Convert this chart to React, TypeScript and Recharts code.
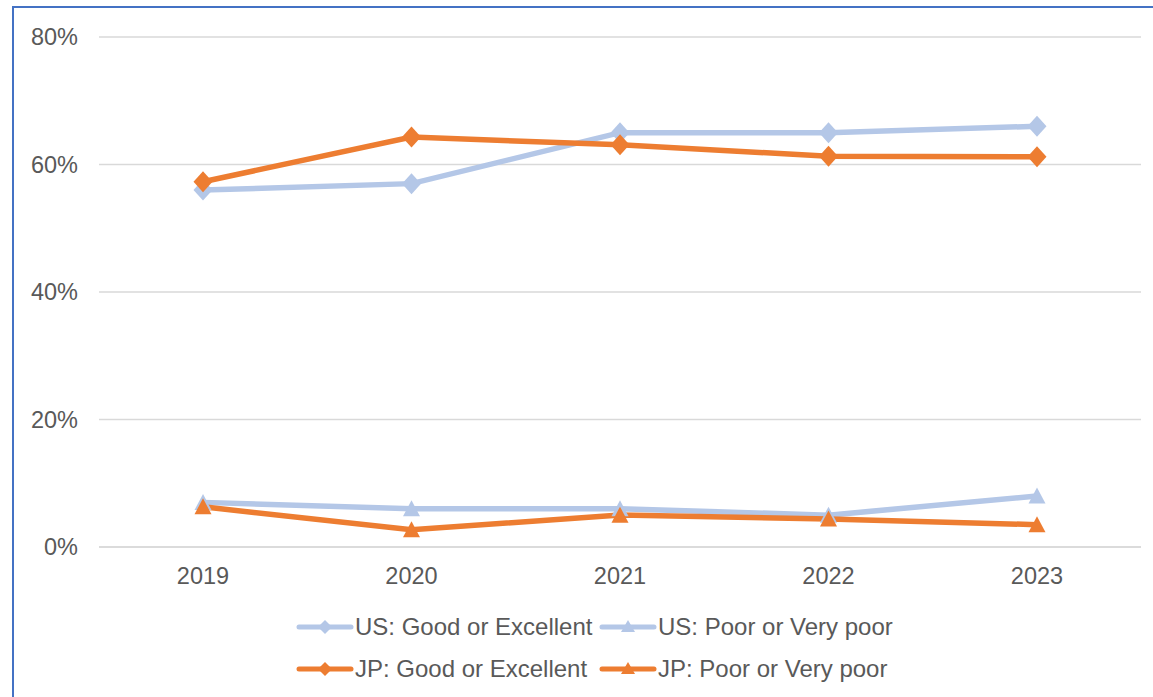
import React from "react";
import { LineChart, Line, XAxis, YAxis, CartesianGrid } from "recharts";

const years = ["2019", "2020", "2021", "2022", "2023"];
const usGood = [56, 57, 65, 65, 66];
const usPoor = [7, 6, 6, 5, 8];
const jpGood = [57.3, 64.3, 63.1, 61.3, 61.2];
const jpPoor = [6.3, 2.7, 5.0, 4.4, 3.5];
const yTicks = [0, 20, 40, 60, 80];

const seriesNames = [
  "US: Good or Excellent",
  "US: Poor or Very poor",
  "JP: Good or Excellent",
  "JP: Poor or Very poor",
];

const US_COLOR = "#B4C7E7";
const JP_COLOR = "#ED7D31";

const data = years.map((y, i) => ({
  year: y,
  usGood: usGood[i],
  usPoor: usPoor[i],
  jpGood: jpGood[i],
  jpPoor: jpPoor[i],
}));

const Diamond = (color: string) => (props: any) => {
  const { cx, cy } = props;
  if (cx == null || cy == null) return null;
  const w = 9.5, h = 10.5;
  return (
    <polygon
      points={`${cx},${cy - h} ${cx + w},${cy} ${cx},${cy + h} ${cx - w},${cy}`}
      fill={color}
    />
  );
};

const Triangle = (color: string) => (props: any) => {
  const { cx, cy } = props;
  if (cx == null || cy == null) return null;
  const w = 8.5, h = 15;
  return (
    <polygon
      points={`${cx},${cy - h / 2 - 1} ${cx + w},${cy + h / 2} ${cx - w},${cy + h / 2}`}
      fill={color}
    />
  );
};

const LegendIcon = ({ color, shape }: { color: string; shape: string }) => (
  <svg width={58} height={16} style={{ display: "block" }}>
    <line x1={3} y1={8} x2={55} y2={8} stroke={color} strokeWidth={5} strokeLinecap="round" />
    {shape === "diamond" ? (
      <polygon points="29,1 36,8 29,15 22,8" fill={color} />
    ) : (
      <polygon points="29,1 36,13 22,13" fill={color} />
    )}
  </svg>
);

const legendItems = [
  { name: seriesNames[0], color: US_COLOR, shape: "diamond" },
  { name: seriesNames[1], color: US_COLOR, shape: "triangle" },
  { name: seriesNames[2], color: JP_COLOR, shape: "diamond" },
  { name: seriesNames[3], color: JP_COLOR, shape: "triangle" },
];

const FONT = "Liberation Sans, Arial, sans-serif";
const textStyle = { fill: "#595959", fontSize: 23.5, fontFamily: FONT };

export default function App() {
  return (
    <div style={{ position: "absolute", left: 0, top: 0, width: 1153, height: 697, overflow: "hidden", background: "#fff" }}>
      <div
        style={{
          position: "absolute",
          left: 12,
          top: 6,
          width: 1180,
          height: 720,
          border: "2px solid #4472C4",
          boxSizing: "border-box",
        }}
      />
      <div style={{ position: "absolute", left: 0, top: 0 }}>
        <LineChart
          width={1153}
          height={697}
          data={data}
          margin={{ top: 37, right: 12, bottom: 120, left: 39 }}
        >
          <CartesianGrid vertical={false} stroke="#D9D9D9" strokeWidth={1.5} />
          <XAxis
            dataKey="year"
            padding={{ left: 104, right: 104 }}
            tickLine={false}
            axisLine={{ stroke: "#D9D9D9", strokeWidth: 1.5 }}
            tick={textStyle}
            tickSize={0}
            tickMargin={20}
            height={30}
          />
          <YAxis
            domain={[0, 80]}
            ticks={yTicks}
            tickFormatter={(v: number) => `${v}%`}
            axisLine={false}
            tickLine={false}
            tickSize={0}
            tickMargin={21}
            tick={textStyle}
            width={60}
          />
          <Line dataKey="usGood" name={seriesNames[0]} stroke={US_COLOR} strokeWidth={5.5} dot={Diamond(US_COLOR)} isAnimationActive={false} />
          <Line dataKey="usPoor" name={seriesNames[1]} stroke={US_COLOR} strokeWidth={5.5} dot={Triangle(US_COLOR)} isAnimationActive={false} />
          <Line dataKey="jpGood" name={seriesNames[2]} stroke={JP_COLOR} strokeWidth={5.5} dot={Diamond(JP_COLOR)} isAnimationActive={false} />
          <Line dataKey="jpPoor" name={seriesNames[3]} stroke={JP_COLOR} strokeWidth={5.5} dot={Triangle(JP_COLOR)} isAnimationActive={false} />
        </LineChart>
      </div>
      {legendItems.map((it, i) => (
        <div
          key={it.name}
          style={{
            position: "absolute",
            left: i % 2 === 0 ? 296 : 599,
            top: i < 2 ? 613 : 655,
            display: "flex",
            alignItems: "center",
            fontFamily: FONT,
            fontSize: 24,
            lineHeight: "28px",
            color: "#595959",
            whiteSpace: "nowrap",
          }}
        >
          <LegendIcon color={it.color} shape={it.shape} />
          <span style={{ marginLeft: 1 }}>{it.name}</span>
        </div>
      ))}
    </div>
  );
}
